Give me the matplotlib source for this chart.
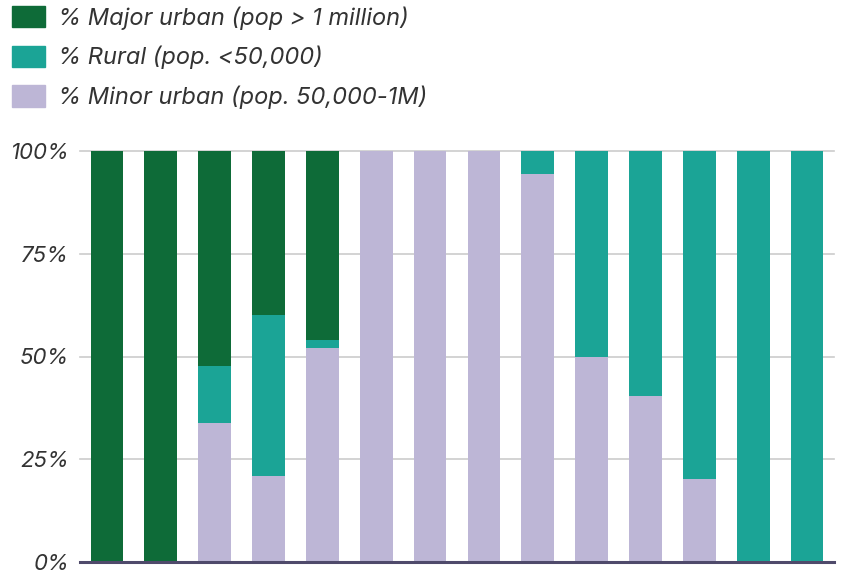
import matplotlib
matplotlib.use("Agg")
from matplotlib import pyplot as plt
from matplotlib.patches import Patch
import numpy as np

plt.rcParams['font.family'] = ['Inter', 'DejaVu Sans']
plt.rcParams['font.style'] = 'italic'

# share of population per category, one value per bar
minor_urban = [0, 0, 33.8, 21, 52, 100, 100, 100, 94.5, 50, 40.5, 20.2, 0, 0]
rural = [0, 0, 13.9, 39, 2, 0, 0, 0, 5.5, 50, 59.5, 79.8, 100, 100]
major_urban = [100, 100, 52.3, 40, 46, 0, 0, 0, 0, 0, 0, 0, 0, 0]
yticks = [0, 25, 50, 75, 100]

labels = ['% Major urban (pop > 1 million)', '% Rural (pop. <50,000)',
          '% Minor urban (pop. 50,000-1M)']
c_major = '#0e6b38'
c_rural = '#1ba496'
c_minor = '#bdb6d6'

fig = plt.figure(figsize=(8.45, 5.73), dpi=100)
ax = fig.add_axes([80 / 845, 11 / 573, 754 / 845, 411 / 573])

x = np.arange(len(minor_urban))
minor = np.array(minor_urban)
rur = np.array(rural)
maj = np.array(major_urban)
w = 0.61
ax.bar(x, minor, w, color=c_minor, zorder=2)
ax.bar(x, rur, w, bottom=minor, color=c_rural, zorder=2)
ax.bar(x, maj, w, bottom=minor + rur, color=c_major, zorder=2)

ax.set_xlim(-0.5, len(x) - 0.5)
ax.set_ylim(0, 100)
ax.set_yticks(yticks)
ax.set_yticklabels([f'{v}%' for v in yticks], fontsize=16, color='#333333')
ax.set_xticks([])
for v in yticks[1:]:
    ax.axhline(v, color='#cccccc', lw=1.2, zorder=1, clip_on=False)
for s in ['top', 'right', 'left']:
    ax.spines[s].set_visible(False)
ax.spines['bottom'].set_color('#4f4a6b')
ax.spines['bottom'].set_linewidth(2.2)
ax.spines['bottom'].set_zorder(3)
ax.tick_params(axis='y', length=0, pad=8)

handles = [Patch(color=c_major), Patch(color=c_rural), Patch(color=c_minor)]
fig.legend(handles, labels, loc='upper left', bbox_to_anchor=(12 / 845, 1 - 6 / 573),
           frameon=False, fontsize=17, handlelength=1.4, handleheight=1.0,
           labelspacing=0.68, handletextpad=0.55, borderpad=0, borderaxespad=0,
           labelcolor='#333333')

fig.savefig('out.png', dpi=100)
